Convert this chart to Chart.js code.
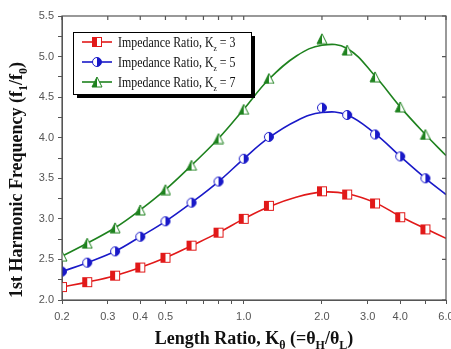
<!DOCTYPE html>
<html>
<head>
<meta charset="utf-8">
<script src="https://cdn.jsdelivr.net/npm/chart.js@4"></script>
<style>
  body { margin: 0; background: #fff; }
  canvas { display: block; }
</style>
</head>
<body>
<canvas id="harmonic-chart" width="451" height="349"></canvas>
<script>
// measured points (length ratio on x, f1/f0 on y)
const xValues = [0.2, 0.25, 0.32, 0.4, 0.5, 0.63, 0.8, 1.0, 1.25, 2.0, 2.5, 3.2, 4.0, 5.0];
const kz3Points = [2.16, 2.22, 2.30, 2.40, 2.52, 2.67, 2.83, 3.00, 3.16, 3.34, 3.30, 3.19, 3.02, 2.87];
const kz5Points = [2.35, 2.46, 2.60, 2.78, 2.97, 3.20, 3.46, 3.74, 4.01, 4.37, 4.28, 4.04, 3.77, 3.50];
const kz7Points = [2.54, 2.70, 2.89, 3.11, 3.36, 3.66, 3.99, 4.35, 4.73, 5.22, 5.08, 4.75, 4.38, 4.04];

// fitted curves
const curveX = [0.2, 0.25, 0.32, 0.4, 0.5, 0.63, 0.8, 1.0, 1.25, 1.6, 2.0, 2.5, 3.2, 4.0, 5.0, 6.0];
const kz3Curve = [2.16, 2.22, 2.30, 2.40, 2.52, 2.67, 2.83, 3.00, 3.15, 3.27, 3.33, 3.31, 3.20, 3.03, 2.88, 2.76];
const kz5Curve = [2.35, 2.46, 2.60, 2.78, 2.97, 3.20, 3.46, 3.74, 4.00, 4.21, 4.31, 4.28, 4.05, 3.77, 3.50, 3.30];
const kz7Curve = [2.54, 2.70, 2.89, 3.11, 3.36, 3.66, 3.99, 4.35, 4.72, 5.01, 5.14, 5.10, 4.76, 4.38, 4.04, 3.78];

const xMajorTicks = [0.2, 0.3, 0.4, 0.5, 1.0, 2.0, 3.0, 4.0, 6.0];
const xMinorTicks = [0.6, 0.7, 0.8, 0.9, 5.0];
const legendLabels = ['3', '5', '7'];

const RED = 'rgb(225,25,25)';
const BLUE = 'rgb(25,25,200)';
const GREEN = 'rgb(30,130,30)';

function makeMarker(shape, color) {
  const c = document.createElement('canvas');
  c.width = 12; c.height = 12;
  const g = c.getContext('2d');
  g.lineWidth = 1;
  g.strokeStyle = color;
  if (shape === 'square') {
    g.fillStyle = '#fff'; g.fillRect(1.5, 1.5, 9, 9);
    g.fillStyle = color; g.fillRect(1.5, 1.5, 4.5, 9);
    g.strokeRect(1.5, 1.5, 9, 9);
  } else if (shape === 'circle') {
    g.fillStyle = '#fff';
    g.beginPath(); g.arc(6, 6, 4.5, 0, Math.PI * 2); g.fill();
    g.fillStyle = color;
    g.beginPath(); g.arc(6, 6, 4.5, -Math.PI / 2, Math.PI / 2); g.fill();
    g.beginPath(); g.arc(6, 6, 4.5, 0, Math.PI * 2); g.stroke();
  } else {
    g.fillStyle = '#fff';
    g.beginPath(); g.moveTo(6, 1); g.lineTo(1, 11); g.lineTo(11, 11); g.closePath(); g.fill();
    g.fillStyle = color;
    g.beginPath(); g.moveTo(6, 1); g.lineTo(1, 11); g.lineTo(6, 11); g.closePath(); g.fill();
    g.beginPath(); g.moveTo(6, 1); g.lineTo(1, 11); g.lineTo(11, 11); g.closePath(); g.stroke();
  }
  return c;
}

const markers = [makeMarker('square', RED), makeMarker('circle', BLUE), makeMarker('triangle', GREEN)];
const colors = [RED, BLUE, GREEN];

function toXY(xs, ys) {
  return xs.map((x, i) => ({ x: x, y: ys[i] }));
}

function curveSet(ys, color) {
  return {
    data: toXY(curveX, ys),
    borderColor: color,
    borderWidth: 1.6,
    pointRadius: 0,
    tension: 0.4,
    order: 2
  };
}

function pointSet(ys, i) {
  return {
    data: toXY(xValues, ys),
    showLine: false,
    pointStyle: markers[i],
    order: 1
  };
}

// draws text with subscripts, parts = [[text, isSub], ...]
function drawRich(ctx, parts, x, y, size, weight, align) {
  const base = weight + ' ' + size + 'px "Liberation Serif"';
  const sub = weight + ' ' + Math.round(size * 0.65) + 'px "Liberation Serif"';
  let total = 0;
  parts.forEach(p => {
    ctx.font = p[1] ? sub : base;
    total += ctx.measureText(p[0]).width;
  });
  let cx = align === 'center' ? x - total / 2 : x;
  parts.forEach(p => {
    ctx.font = p[1] ? sub : base;
    ctx.fillText(p[0], cx, p[1] ? y + size * 0.3 : y);
    cx += ctx.measureText(p[0]).width;
  });
}

const decorPlugin = {
  id: 'decor',
  afterDraw(chart) {
    const ctx = chart.ctx;
    const a = chart.chartArea;
    const xs = chart.scales.x;
    const ys = chart.scales.y;
    ctx.save();

    // frame with inward ticks on top and right
    ctx.strokeStyle = '#555';
    ctx.lineWidth = 1.2;
    ctx.strokeRect(a.left, a.top, a.right - a.left, a.bottom - a.top);
    ctx.beginPath();
    xMajorTicks.concat(xMinorTicks).forEach(v => {
      const px = xs.getPixelForValue(v);
      ctx.moveTo(px, a.top); ctx.lineTo(px, a.top + 4);
    });
    for (let v = 2.0; v <= 5.5; v += 0.5) {
      const py = ys.getPixelForValue(v);
      ctx.moveTo(a.right, py); ctx.lineTo(a.right - 4, py);
    }
    ctx.stroke();

    // legend box with shadow
    const bx = 73, by = 32, bw = 178, bh = 62;
    ctx.fillStyle = '#000';
    ctx.fillRect(bx + 4, by + 4, bw, bh);
    ctx.fillStyle = '#fff';
    ctx.fillRect(bx, by, bw, bh);
    ctx.strokeStyle = '#000';
    ctx.lineWidth = 1;
    ctx.strokeRect(bx + 0.5, by + 0.5, bw, bh);

    legendLabels.forEach((lab, i) => {
      const ly = 42 + i * 20;
      ctx.strokeStyle = colors[i];
      ctx.lineWidth = 1.6;
      ctx.beginPath(); ctx.moveTo(82, ly); ctx.lineTo(112, ly); ctx.stroke();
      ctx.drawImage(markers[i], 97 - 6, ly - 6);
      ctx.save();
      ctx.fillStyle = '#111';
      ctx.textBaseline = 'alphabetic';
      ctx.translate(118, ly + 5);
      ctx.scale(0.85, 1);
      drawRich(ctx, [['Impedance Ratio, K', false], ['z', true], [' = ' + lab, false]], 0, 0, 14, 'normal', 'left');
      ctx.restore();
    });

    // axis titles
    ctx.fillStyle = '#111';
    ctx.textBaseline = 'alphabetic';
    drawRich(ctx, [['Length Ratio, K', false], ['θ', true], [' (=θ', false], ['H', true], ['/θ', false], ['L', true], [')', false]],
      254, 344, 18, 'bold', 'center');

    ctx.save();
    ctx.translate(22, 180);
    ctx.rotate(-Math.PI / 2);
    drawRich(ctx, [['1st Harmonic Frequency (f', false], ['1', true], ['/f', false], ['0', true], [')', false]],
      0, 0, 18, 'bold', 'center');
    ctx.restore();

    ctx.restore();
  }
};

Chart.defaults.font.family = '"Liberation Sans", Arial, sans-serif';

const chart = new Chart(document.getElementById('harmonic-chart'), {
  type: 'line',
  data: {
    datasets: [
      pointSet(kz3Points, 0),
      pointSet(kz5Points, 1),
      pointSet(kz7Points, 2),
      curveSet(kz3Curve, RED),
      curveSet(kz5Curve, BLUE),
      curveSet(kz7Curve, GREEN)
    ]
  },
  options: {
    responsive: false,
    animation: false,
    devicePixelRatio: 1,
    layout: { padding: { top: 16, right: 3, left: 0, bottom: 0 } },
    plugins: {
      legend: { display: false },
      tooltip: { enabled: false }
    },
    scales: {
      x: {
        type: 'logarithmic',
        min: 0.2,
        max: 6.0,
        afterBuildTicks: scale => {
          scale.ticks = xMajorTicks.concat(xMinorTicks).sort((p, q) => p - q).map(v => ({ value: v }));
        },
        afterFit: scale => {
          scale.height = 49;
          scale.paddingLeft = 0;
          scale.paddingRight = 0;
        },
        grid: { drawOnChartArea: false, tickLength: 4, color: '#555' },
        border: { color: '#555' },
        ticks: {
          autoSkip: false,
          maxRotation: 0,
          padding: 6,
          color: '#555',
          font: { size: 11 },
          callback: v => xMajorTicks.includes(v) ? v.toFixed(1) : ''
        }
      },
      y: {
        min: 2.0,
        max: 5.5,
        afterFit: scale => {
          scale.width = 62;
          scale.paddingTop = 0;
          scale.paddingBottom = 0;
        },
        grid: { drawOnChartArea: false, tickLength: 4, color: '#555' },
        border: { color: '#555' },
        ticks: {
          stepSize: 0.25,
          padding: 4,
          color: '#555',
          font: { size: 11 },
          callback: v => Math.abs(v * 2 - Math.round(v * 2)) < 1e-6 ? v.toFixed(1) : ''
        }
      }
    }
  },
  plugins: [decorPlugin]
});
</script>
</body>
</html>
